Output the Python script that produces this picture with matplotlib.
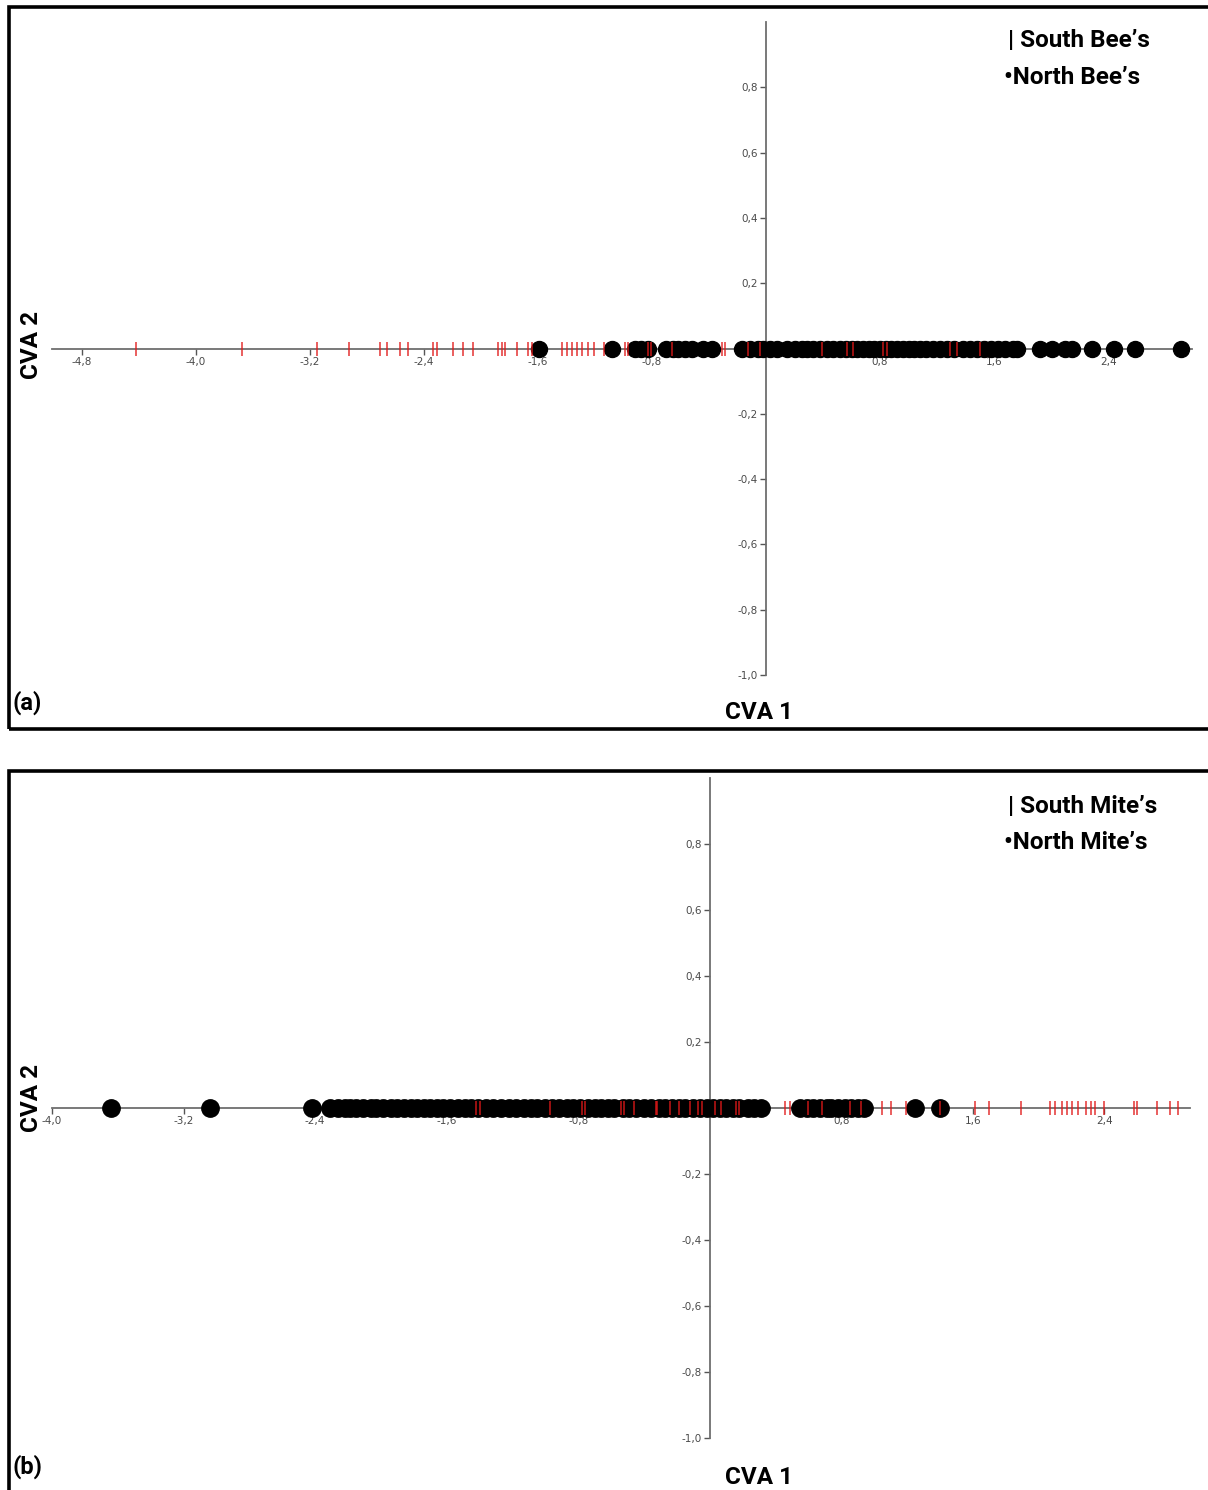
import numpy as np
import matplotlib.pyplot as plt
from matplotlib.patches import Rectangle

# CVA 1 scores (CVA 2 is zero for every specimen)
south_bees = [-4.42, -3.68, -3.15, -2.93, -2.71, -2.66, -2.57, -2.51, -2.34, -2.31,
              -2.20, -2.13, -2.06, -1.88, -1.85, -1.83, -1.75, -1.67, -1.64, -1.43,
              -1.40, -1.36, -1.33, -1.29, -1.25, -1.21, -1.14, -0.99, -0.97, -0.83,
              -0.81, -0.66, -0.31, -0.29, -0.13, -0.04, 0.39, 0.57, 0.61, 0.82,
              0.85, 1.29, 1.34, 1.50]
north_bees = [-1.59, -1.08, -0.92, -0.88, -0.83, -0.70, -0.65, -0.62, -0.57, -0.52,
              -0.44, -0.38, -0.17, -0.11, -0.06, -0.02, 0.03, 0.08, 0.15, 0.20,
              0.25, 0.29, 0.33, 0.38, 0.43, 0.47, 0.52, 0.56, 0.60, 0.64,
              0.68, 0.72, 0.76, 0.80, 0.84, 0.88, 0.92, 0.96, 1.00, 1.04,
              1.08, 1.12, 1.17, 1.22, 1.27, 1.32, 1.38, 1.43, 1.48, 1.53,
              1.58, 1.63, 1.68, 1.73, 1.76, 1.92, 2.01, 2.10, 2.15, 2.29,
              2.44, 2.59, 2.91]

south_mites = [-1.42, -1.40, -0.97, -0.78, -0.76, -0.54, -0.52, -0.46, -0.33, -0.32,
               -0.24, -0.19, -0.12, -0.07, -0.05, 0.03, 0.07, 0.16, 0.18, 0.46,
               0.49, 0.60, 0.68, 0.85, 0.92, 1.05, 1.10, 1.19, 1.40, 1.61,
               1.70, 1.89, 2.07, 2.10, 2.14, 2.17, 2.20, 2.24, 2.29, 2.32,
               2.34, 2.40, 2.58, 2.60, 2.72, 2.80, 2.85]
north_mites = [-3.64, -3.04, -2.42, -2.31, -2.26, -2.22, -2.19, -2.15, -2.11, -2.06,
               -2.03, -1.99, -1.94, -1.90, -1.86, -1.82, -1.78, -1.74, -1.70, -1.66,
               -1.62, -1.58, -1.53, -1.49, -1.45, -1.41, -1.36, -1.32, -1.27, -1.22,
               -1.18, -1.13, -1.09, -1.05, -1.00, -0.96, -0.92, -0.87, -0.83, -0.79,
               -0.74, -0.70, -0.66, -0.62, -0.58, -0.53, -0.49, -0.45, -0.40, -0.36,
               -0.31, -0.27, -0.23, -0.19, -0.15, -0.10, -0.06, -0.02, 0.02, 0.06,
               0.10, 0.14, 0.18, 0.23, 0.27, 0.31, 0.55, 0.59, 0.63, 0.67,
               0.71, 0.74, 0.78, 0.82, 0.86, 0.90, 0.94, 1.25, 1.40]

xticks_a = [-4.8, -4.0, -3.2, -2.4, -1.6, -0.8, 0.8, 1.6, 2.4]
xticks_b = [-4.0, -3.2, -2.4, -1.6, -0.8, 0.8, 1.6, 2.4]
yticks = [0.8, 0.6, 0.4, 0.2, -0.2, -0.4, -0.6, -0.8, -1.0]

W, H = 1208, 1490
fig = plt.figure(figsize=(W / 100, H / 100), dpi=100)

def px_box(x0, y0, x1, y1):
    # pixel box (top-left origin) -> figure fraction [l, b, w, h]
    return [x0 / W, 1 - y1 / H, (x1 - x0) / W, (y1 - y0) / H]

def comma(v):
    return ('%.1f' % v).replace('.', ',')

def panel(box, xlim, xticks, south, north, ms):
    ax = fig.add_axes(box)
    ax.set_xlim(*xlim)
    ax.set_ylim(-1.0, 1.0)
    ax.patch.set_alpha(0)
    for s in ['top', 'right']:
        ax.spines[s].set_visible(False)
    ax.spines['left'].set_position(('data', 0))
    ax.spines['bottom'].set_position(('data', 0))
    for s in ['left', 'bottom']:
        ax.spines[s].set_color('#6e6e6e')
        ax.spines[s].set_linewidth(1.3)
    ax.set_xticks(xticks)
    ax.set_xticklabels([comma(v) for v in xticks])
    ax.set_yticks(yticks)
    ax.set_yticklabels([comma(v) for v in yticks])
    ax.tick_params(length=4, width=1, color='#555555', labelsize=7.5,
                   labelcolor='#4a4a4a', pad=2)
    ax.plot(north, np.zeros(len(north)), 'o', color='black', ms=ms,
            clip_on=False, zorder=3)
    ax.plot(south, np.zeros(len(south)), '|', color='#e01818', ms=10,
            mew=1.3, alpha=0.75, clip_on=False, zorder=4)
    return ax

panel(px_box(52, 22, 1192, 675), (-5.011, 2.989), xticks_a,
      south_bees, north_bees, 11.5)
panel(px_box(52, 778, 1190, 1438), (-4.0, 2.92), xticks_b,
      south_mites, north_mites, 12.5)

# panel frames
fig.patches.append(Rectangle((9 / W, 1 - 729 / H), 1.0, (729 - 7) / H,
                             transform=fig.transFigure, fill=False,
                             lw=2.6, ec='black'))
fig.patches.append(Rectangle((9 / W, -0.05), 1.0, (1490 - 771) / H + 0.05,
                             transform=fig.transFigure, fill=False,
                             lw=2.6, ec='black'))

font = dict(family=['Roboto', 'DejaVu Sans'], weight='bold', color='black')

def label(x, y, s, size, **kw):
    fig.text(x / W, 1 - y / H, s, fontsize=size, **font, **kw)

for (top, bot, a, b) in [(41, 77, "South Bee\u2019s", "North Bee\u2019s"),
                         (806, 842, "South Mite\u2019s", "North Mite\u2019s")]:
    label(1008, top, "| " + a, 17.5, va='center', ha='left')
    label(1004, bot, "\u2022" + b, 17.5, va='center', ha='left')

label(759, 713, "CVA 1", 17.5, va='center', ha='center')
label(759, 1477, "CVA 1", 17.5, va='center', ha='center')
label(32, 345, "CVA 2", 17.5, va='center', ha='center', rotation=90)
label(32, 1098, "CVA 2", 17.5, va='center', ha='center', rotation=90)
label(13, 703, "(a)", 17, va='center', ha='left')
label(13, 1467, "(b)", 17, va='center', ha='left')

fig.savefig('out.png', dpi=100)
